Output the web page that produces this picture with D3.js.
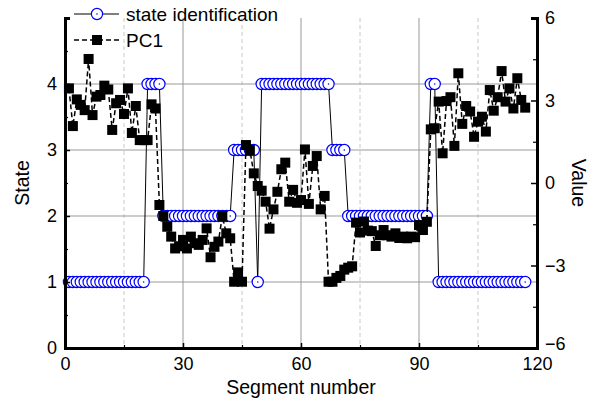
<!DOCTYPE html>
<html><head><meta charset="utf-8">
<script src="https://cdn.jsdelivr.net/npm/d3@7"></script>
<style>
body{margin:0;background:#fff;}
text{font-family:"Liberation Sans",Arial,sans-serif;fill:#000;}
</style></head>
<body><svg id="chart" width="597" height="406"></svg>
<script>
// ---- data ----
const segments = [1,2,3,4,5,6,7,8,9,10,11,12,13,14,15,16,17,18,19,20,21,22,23,24,25,26,27,28,29,30,31,32,33,34,35,36,37,38,39,40,41,42,43,44,45,46,47,48,49,50,51,52,53,54,55,56,57,58,59,60,61,62,63,64,65,66,67,68,69,70,71,72,73,74,75,76,77,78,79,80,81,82,83,84,85,86,87,88,89,90,91,92,93,94,95,96,97,98,99,100,101,102,103,104,105,106,107,108,109,110,111,112,113,114,115,116,117];
const stateValues = [1,1,1,1,1,1,1,1,1,1,1,1,1,1,1,1,1,1,1,1,
  4,4,4,4,
  2,2,2,2,2,2,2,2,2,2,2,2,2,2,2,2,2,2,
  3,3,3,3,3,3,
  1,
  4,4,4,4,4,4,4,4,4,4,4,4,4,4,4,4,4,4,
  3,3,3,3,
  2,2,2,2,2,2,2,2,2,2,2,2,2,2,2,2,2,2,2,2,2,
  4,4,
  1,1,1,1,1,1,1,1,1,1,1,1,1,1,1,1,1,1,1,1,1,1,1];
const pc1Values = [3.44,2.07,3.04,2.84,2.65,4.51,2.47,3.14,3.2,3.54,
  3.4,1.93,2.9,3.02,2.51,3.44,1.82,2.8,1.56,1.56,
  1.56,2.86,2.71,-0.8,-1.2,-1.59,-1.95,-2.38,-2.3,-2.07,
  -2.38,-1.95,-2.19,-2.25,-2.07,-1.65,-2.7,-2.32,-2.13,-1.2,
  -1.83,-2.01,-3.59,-3.25,-3.59,1.38,1.2,0.35,-0.11,-0.28,
  -0.68,-1.66,-0.96,-0.32,0.5,0.74,-0.68,-0.25,-0.72,-0.62,
  1.22,-0.76,0.62,0.98,-0.96,-0.47,-3.59,-3.59,-3.45,-3.38,
  -3.15,-3.08,-3.03,-1.44,-1.8,-1.4,-1.73,-1.75,-2.29,-1.9,
  -1.71,-1.9,-1.95,-1.83,-2.0,-1.95,-2.01,-1.95,-1.97,-1.53,
  -1.71,-1.41,1.95,1.99,2.96,1.08,2.98,3.12,1.35,3.99,
  2.15,2.8,2.6,1.68,2.23,2.41,1.87,3.38,2.63,3.12,
  4.07,2.96,3.44,2.71,3.81,3.02,2.74];
const xTicks = [0,30,60,90,120];
const xMinor = [15,45,75,105];
const leftTicks = [0,1,2,3,4];
const leftMinor = [0.5,1.5,2.5,3.5,4.5];
const rightTicks = [-6,-3,0,3,6];
const rightMinor = [-4.5,-1.5,1.5,4.5];
const seriesNames = ["state identification","PC1"];

// ---- layout ----
const svg = d3.select("#chart");
const L=65, R=537, T=18, B=348;
const x = d3.scaleLinear().domain([0,120]).range([L,R]);
const yL = d3.scaleLinear().domain([0,5]).range([B,T]);
const yR = d3.scaleLinear().domain([-6,6]).range([B,T]);

// grid
const g = svg.append("g");
g.selectAll(".gx").data(xMinor).join("line")
  .attr("x1",d=>x(d)).attr("x2",d=>x(d)).attr("y1",T).attr("y2",B)
  .attr("stroke","#c8c8c8").attr("stroke-width",1).attr("stroke-dasharray","4,3");
g.selectAll(".gX").data(xTicks.slice(1,-1)).join("line")
  .attr("x1",d=>x(d)).attr("x2",d=>x(d)).attr("y1",T).attr("y2",B)
  .attr("stroke","#999").attr("stroke-width",1);
g.selectAll(".gY").data(leftTicks.slice(1)).join("line")
  .attr("x1",L).attr("x2",R).attr("y1",d=>yL(d)).attr("y2",d=>yL(d))
  .attr("stroke","#999").attr("stroke-width",1);

// state series
const pts = segments.map((s,i)=>({s, st: stateValues[i], v: pc1Values[i]}));
svg.append("path").datum(pts)
  .attr("d", d3.line().x(d=>x(d.s)).y(d=>yL(d.st)))
  .attr("fill","none").attr("stroke","#000").attr("stroke-width",1);
const cg = svg.append("g");
pts.forEach(d=>{
  cg.append("circle").attr("cx",x(d.s)).attr("cy",yL(d.st)).attr("r",5.6)
    .attr("fill","#fff").attr("stroke","#0000ff").attr("stroke-width",1.2);
  cg.append("circle").attr("cx",x(d.s)).attr("cy",yL(d.st)).attr("r",0.8).attr("fill","#0000ff");
});

// PC1 series
svg.append("path").datum(pts)
  .attr("d", d3.line().x(d=>x(d.s)).y(d=>yR(d.v)))
  .attr("fill","none").attr("stroke","#000").attr("stroke-width",1.5).attr("stroke-dasharray","5,3");
svg.append("g").selectAll("rect").data(pts).join("rect")
  .attr("x",d=>x(d.s)-5).attr("y",d=>yR(d.v)-5).attr("width",10).attr("height",10).attr("fill","#000");

// axes
function styleAxis(sel){
  sel.selectAll("text").style("font-size","18px").style("font-family","'Liberation Sans',Arial,sans-serif");
  sel.selectAll("line").attr("stroke","#000").attr("stroke-width",1.5);
}
const ax = svg.append("g").attr("transform",`translate(0,${B})`)
  .call(d3.axisBottom(x).tickValues(xTicks).tickSize(-5).tickPadding(9).tickFormat(d3.format("d")));
ax.call(styleAxis);
svg.append("g").attr("transform",`translate(0,${B})`)
  .call(d3.axisBottom(x).tickValues(xMinor).tickSize(-3).tickFormat(""))
  .call(s=>{s.select(".domain").remove(); s.selectAll("line").attr("stroke","#000").attr("stroke-width",1.2);});
const al = svg.append("g").attr("transform",`translate(${L},0)`)
  .call(d3.axisLeft(yL).tickValues(leftTicks).tickSize(-5).tickPadding(8).tickFormat(d3.format("d")));
al.call(styleAxis);
svg.append("g").attr("transform",`translate(${L},0)`)
  .call(d3.axisLeft(yL).tickValues(leftMinor).tickSize(-3).tickFormat(""))
  .call(s=>{s.select(".domain").remove(); s.selectAll("line").attr("stroke","#000").attr("stroke-width",1.2);});
const ar = svg.append("g").attr("transform",`translate(${R},0)`)
  .call(d3.axisRight(yR).tickValues(rightTicks).tickSize(-6).tickPadding(8).tickFormat(d3.format("d")));
ar.call(styleAxis);
svg.append("g").attr("transform",`translate(${R},0)`)
  .call(d3.axisRight(yR).tickValues(rightMinor).tickSize(-4).tickFormat(""))
  .call(s=>{s.select(".domain").remove(); s.selectAll("line").attr("stroke","#000").attr("stroke-width",1.2);});
[ax,al,ar].forEach(a=>a.select(".domain").attr("stroke","#000").attr("stroke-width",3));
ar.selectAll(".tick text").filter(d=>d===-6).attr("dy","0.1em");

// axis titles
svg.append("text").attr("x",(L+R)/2).attr("y",394).attr("text-anchor","middle")
  .style("font-size","19.5px").text("Segment number");
svg.append("text").attr("transform",`translate(29,${(T+B)/2}) rotate(-90)`).attr("text-anchor","middle")
  .style("font-size","19.5px").text("State");
svg.append("text").attr("transform",`translate(572,${(T+B)/2}) rotate(90)`).attr("text-anchor","middle")
  .style("font-size","19.5px").text("Value");

// legend
const lg = svg.append("g");
lg.append("line").attr("x1",74).attr("x2",119).attr("y1",14).attr("y2",14).attr("stroke","#000").attr("stroke-width",1);
lg.append("circle").attr("cx",97).attr("cy",14).attr("r",5.6).attr("fill","#fff").attr("stroke","#0000ff").attr("stroke-width",1.2);
lg.append("circle").attr("cx",97).attr("cy",14).attr("r",0.8).attr("fill","#0000ff");
lg.append("text").attr("x",126).attr("y",14).attr("dy","0.35em").style("font-size","19px").text(seriesNames[0]);
lg.append("line").attr("x1",74).attr("x2",119).attr("y1",40).attr("y2",40).attr("stroke","#000").attr("stroke-width",1.5).attr("stroke-dasharray","5,3");
lg.append("rect").attr("x",92).attr("y",35).attr("width",10).attr("height",10).attr("fill","#000");
lg.append("text").attr("x",126).attr("y",40).attr("dy","0.35em").style("font-size","19px").text(seriesNames[1]);
</script></body></html>
